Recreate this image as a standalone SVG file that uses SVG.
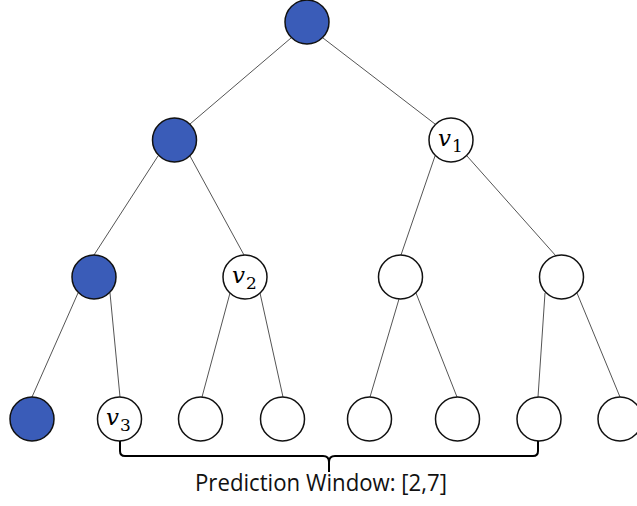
<svg xmlns="http://www.w3.org/2000/svg" width="637" height="506" viewBox="0 0 637 506">
<style>
.e{stroke:#555;stroke-width:1;fill:none}
.n{stroke:#111;stroke-width:1.5;fill:#fff}
.b{fill:#3A5CB8}
.v{font-family:"DejaVu Serif",serif;font-style:italic;font-size:23px;fill:#000}
.s{font-family:"DejaVu Serif",serif;font-size:17px;fill:#000}
.br{stroke:#000;stroke-width:2;fill:none}
.lbl{font-family:"Open Sans","Liberation Sans",sans-serif;font-size:23px;fill:#111}
</style>
<rect width="637" height="506" fill="#fff"/>
<g id="connectors">
<line class="e" x1="291" y1="38" x2="190" y2="124"/>
<line class="e" x1="323" y1="38" x2="435" y2="124"/>
<line class="e" x1="158" y1="156" x2="94" y2="255"/>
<line class="e" x1="190" y1="156" x2="244" y2="255"/>
<line class="e" x1="435" y1="156" x2="401" y2="255"/>
<line class="e" x1="467" y1="156" x2="556" y2="256"/>
<line class="e" x1="78" y1="293" x2="32" y2="397"/>
<line class="e" x1="110" y1="293" x2="120" y2="397"/>
<line class="e" x1="230" y1="293" x2="202" y2="397"/>
<line class="e" x1="260" y1="293" x2="283" y2="397"/>
<line class="e" x1="399" y1="299" x2="370" y2="397"/>
<line class="e" x1="416" y1="293" x2="457" y2="397"/>
<line class="e" x1="545" y1="293" x2="538" y2="397"/>
<line class="e" x1="577" y1="293" x2="620" y2="397"/>
</g>
<g id="root"><circle class="n b" cx="307" cy="22" r="22"/></g>
<g id="n1"><circle class="n b" cx="174.5" cy="140" r="22"/></g>
<g id="v1"><circle class="n" cx="451" cy="140" r="22"/><text class="v" x="438" y="146">v</text><text class="s" x="452" y="152">1</text></g>
<g id="n2"><circle class="n b" cx="94" cy="277" r="22"/></g>
<g id="v2"><circle class="n" cx="245" cy="277" r="22"/><text class="v" x="232" y="283">v</text><text class="s" x="246" y="289">2</text></g>
<g id="n3"><circle class="n" cx="400.5" cy="277" r="22"/></g>
<g id="n4"><circle class="n" cx="561.5" cy="277" r="22"/></g>
<g id="l0"><circle class="n b" cx="32" cy="419" r="22"/></g>
<g id="v3"><circle class="n" cx="119.5" cy="419" r="22"/><text class="v" x="106" y="425">v</text><text class="s" x="120" y="431">3</text></g>
<g id="l2"><circle class="n" cx="200.5" cy="419" r="22"/></g>
<g id="l3"><circle class="n" cx="282.5" cy="419" r="22"/></g>
<g id="l4"><circle class="n" cx="369.5" cy="419" r="22"/></g>
<g id="l5"><circle class="n" cx="457.5" cy="419" r="22"/></g>
<g id="l6"><circle class="n" cx="539" cy="419" r="22"/></g>
<g id="l7"><circle class="n" cx="620" cy="419" r="22"/></g>
<g id="window">
<path class="br" d="M120 441 V451 Q120 456 125 456 H323 Q329 456 329 462 V472 M329 462 Q329 456 335 456 H533 Q538 456 538 451 V441"/>
<text class="lbl" x="321" y="491" text-anchor="middle" textLength="252" lengthAdjust="spacingAndGlyphs">Prediction Window: [2,7]</text>
</g>
</svg>
